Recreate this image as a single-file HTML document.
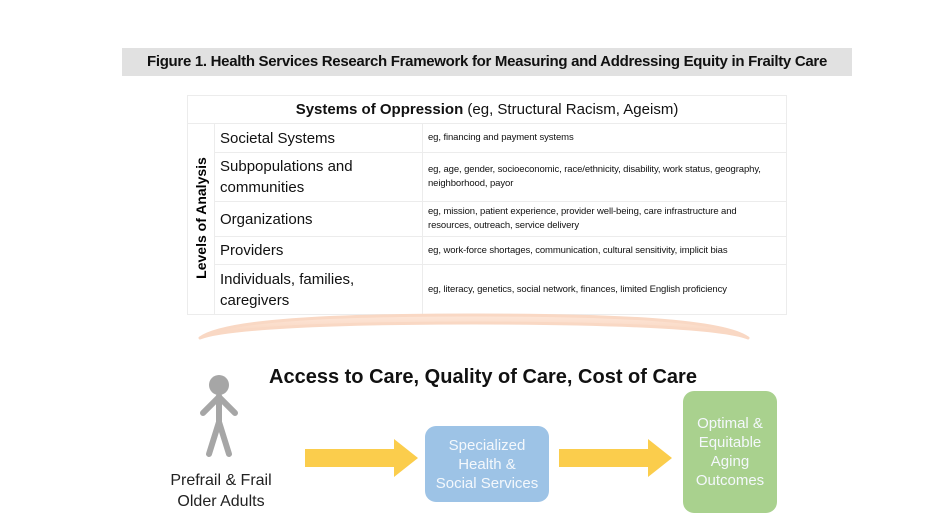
<!DOCTYPE html>
<html><head><meta charset="utf-8"><style>
body{margin:0;width:938px;height:527px;background:#fff;position:relative;overflow:hidden;font-family:"Liberation Sans",sans-serif;}
.a{position:absolute;}
.title{left:122px;top:48px;width:730px;height:28px;background:#e1e1e1;font-weight:bold;font-size:15px;line-height:28px;text-align:center;color:#111;letter-spacing:-0.3px;}
table{position:absolute;left:187px;top:95px;width:599px;border-collapse:collapse;table-layout:fixed;}
td{border:1px solid #ececec;padding:0 5px;color:#111;}
.c2{font-size:15px;line-height:21px;}
.c3{font-size:9.5px;line-height:14px;letter-spacing:-0.1px;}
.lbl{font-size:14px;font-weight:bold;}
.box{position:absolute;border-radius:11px;color:#f4f8fc;text-align:center;font-size:15px;line-height:19px;display:flex;align-items:center;justify-content:center;}
</style></head><body>
<div class="a title">Figure 1. Health Services Research Framework for Measuring and Addressing Equity in Frailty Care</div>
<table>
<colgroup><col style="width:27px"><col style="width:208px"><col style="width:364px"></colgroup>
<tr style="height:28px"><td colspan="3" style="text-align:center;font-size:15px"><b>Systems of Oppression</b> (eg, Structural Racism, Ageism)</td></tr>
<tr style="height:29px"><td rowspan="5" style="padding:0"></td><td class="c2">Societal Systems</td><td class="c3">eg, financing and payment systems</td></tr>
<tr style="height:49px"><td class="c2">Subpopulations and communities</td><td class="c3">eg, age, gender, socioeconomic, race/ethnicity, disability, work status, geography, neighborhood, payor</td></tr>
<tr style="height:35px"><td class="c2">Organizations</td><td class="c3">eg, mission, patient experience, provider well-being, care infrastructure and resources, outreach, service delivery</td></tr>
<tr style="height:28px"><td class="c2">Providers</td><td class="c3">eg, work-force shortages, communication, cultural sensitivity, implicit bias</td></tr>
<tr style="height:50px"><td class="c2">Individuals, families, caregivers</td><td class="c3">eg, literacy, genetics, social network, finances, limited English proficiency</td></tr>
</table>
<div class="a lbl" style="left:201px;top:218px;width:130px;height:18px;transform:translate(-65px,-9px) rotate(-90deg);text-align:center;line-height:18px;">Levels of Analysis</div>
<svg class="a" style="left:0;top:0" width="938" height="527">
<defs><linearGradient id="g" x1="0" y1="0" x2="0" y2="1"><stop offset="0" stop-color="#fde6d8"/><stop offset="1" stop-color="#f8d2ba"/></linearGradient></defs>
<path d="M200,338 C225,320 330,315 474,315 C618,315 723,320 748,338 C723,328 618,323 474,323 C330,323 225,328 200,338 Z" fill="url(#g)" stroke="#f9d8c4" stroke-width="3" stroke-linejoin="round"/>
<g stroke="#a6a6a6" stroke-width="6" stroke-linecap="round" fill="none">
<line x1="219" y1="396" x2="219" y2="424"/>
<line x1="219" y1="397" x2="203" y2="413"/>
<line x1="219" y1="397" x2="235" y2="413"/>
<line x1="219" y1="422" x2="209" y2="454"/>
<line x1="219" y1="422" x2="229" y2="454"/>
</g>
<circle cx="219" cy="385" r="10" fill="#a6a6a6"/>
<polygon points="305,449 394,449 394,439 418,458 394,477 394,467 305,467" fill="#fbcd4c"/>
<polygon points="559,449 648,449 648,439 672,458 648,477 648,467 559,467" fill="#fbcd4c"/>
</svg>
<div class="a" style="left:200px;top:366px;width:566px;text-align:center;font-weight:bold;font-size:20px;color:#111">Access to Care, Quality of Care, Cost of Care</div>
<div class="a" style="left:150px;top:470px;width:142px;text-align:center;font-size:16px;line-height:21px;color:#222">Prefrail &amp; Frail<br>Older Adults</div>
<div class="box" style="left:425px;top:426px;width:124px;height:76px;background:#9dc3e6">Specialized<br>Health &amp;<br>Social Services</div>
<div class="box" style="left:683px;top:391px;width:94px;height:122px;background:#a9d18e">Optimal &amp;<br>Equitable<br>Aging<br>Outcomes</div>
</body></html>
